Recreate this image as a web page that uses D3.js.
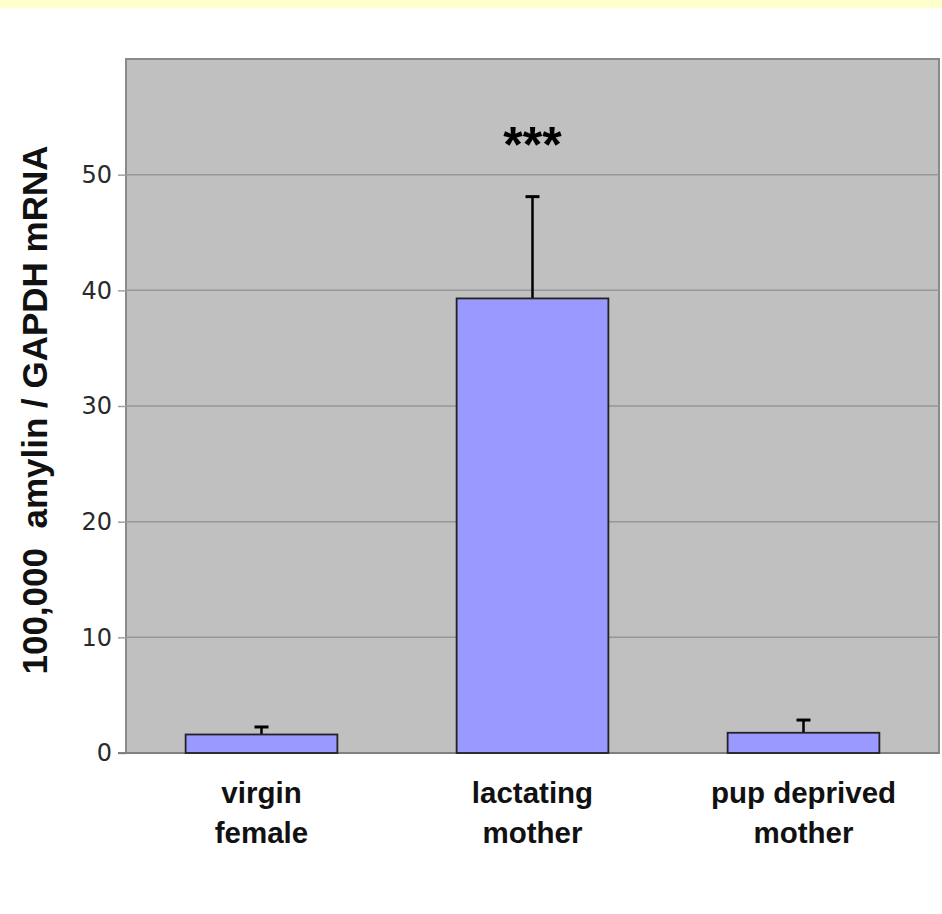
<!DOCTYPE html>
<html>
<head>
<meta charset="utf-8">
<script src="https://cdn.jsdelivr.net/npm/d3@7"></script>
<style>
  body { margin: 0; background: #fff; }
  svg { display: block; }
</style>
</head>
<body>
<div class="vis-barchart"></div>
<script>
// data
const groups = ["virgin female", "lactating mother", "pup deprived mother"];
const labelLines = [["virgin", "female"], ["lactating", "mother"], ["pup deprived", "mother"]];
const means = [1.6, 39.3, 1.75];
const errors = [0.65, 8.8, 1.1];
const stars = ["", "***", ""];
const yTicks = [0, 10, 20, 30, 40, 50];

const width = 942, height = 914;
const margin = { top: 59, right: 3, bottom: 161, left: 126 };

const svg = d3.select('.vis-barchart').append('svg')
    .attr('width', width)
    .attr('height', height);

// pale yellow strip across the top
svg.append('rect')
    .attr('x', 0).attr('y', 0)
    .attr('width', width).attr('height', 8)
    .attr('fill', '#ffffcc');

const innerW = width - margin.left - margin.right;
const innerH = height - margin.top - margin.bottom;

const g = svg.append('g')
    .attr('transform', 'translate(' + margin.left + ',' + margin.top + ')');

const x = d3.scaleBand().domain(groups).range([0, innerW]).paddingInner(0.44).paddingOuter(0.22);
const y = d3.scaleLinear().domain([0, 60]).range([innerH, 0]);

// plot background
g.append('rect')
    .attr('width', innerW).attr('height', innerH)
    .attr('fill', '#c0c0c0')
    .attr('stroke', '#8a8a8a')
    .attr('stroke-width', 2);

// gridlines
g.append('g')
    .selectAll('line')
    .data(yTicks.filter(d => d > 0))
    .join('line')
    .attr('x1', 0).attr('x2', innerW)
    .attr('y1', d => y(d)).attr('y2', d => y(d))
    .attr('stroke', '#969696')
    .attr('stroke-width', 1.5);

// y axis
const yAxis = g.append('g')
    .call(d3.axisLeft(y).tickValues(yTicks).tickSize(8).tickPadding(6));
yAxis.select('.domain').remove();
yAxis.selectAll('.tick line').attr('stroke', '#a0a0a0').attr('stroke-width', 1.5);
yAxis.selectAll('.tick text')
    .attr('font-family', '"DejaVu Sans", sans-serif')
    .attr('font-size', 24)
    .attr('fill', '#2a2a2a');

// baseline
g.append('line')
    .attr('x1', -8).attr('x2', innerW)
    .attr('y1', y(0)).attr('y2', y(0))
    .attr('stroke', '#808080').attr('stroke-width', 2);

// error bars (upper only)
const eb = g.append('g');
eb.selectAll('line.stem')
    .data(groups)
    .join('line')
    .attr('class', 'stem')
    .attr('x1', d => x(d) + x.bandwidth() / 2)
    .attr('x2', d => x(d) + x.bandwidth() / 2)
    .attr('y1', (d, i) => y(means[i]))
    .attr('y2', (d, i) => y(means[i] + errors[i]))
    .attr('stroke', '#000').attr('stroke-width', 2.5);
eb.selectAll('line.cap')
    .data(groups)
    .join('line')
    .attr('class', 'cap')
    .attr('x1', d => x(d) + x.bandwidth() / 2 - 7)
    .attr('x2', d => x(d) + x.bandwidth() / 2 + 7)
    .attr('y1', (d, i) => y(means[i] + errors[i]))
    .attr('y2', (d, i) => y(means[i] + errors[i]))
    .attr('stroke', '#000').attr('stroke-width', 3);

// bars
g.append('g')
    .selectAll('rect')
    .data(groups)
    .join('rect')
    .attr('x', d => x(d))
    .attr('y', (d, i) => y(means[i]))
    .attr('width', x.bandwidth())
    .attr('height', (d, i) => y(0) - y(means[i]))
    .attr('fill', '#9999ff')
    .attr('stroke', '#222')
    .attr('stroke-width', 1.8);

// significance stars
g.append('g')
    .selectAll('text')
    .data(groups)
    .join('text')
    .attr('x', d => x(d) + x.bandwidth() / 2)
    .attr('y', y(51.1))
    .attr('text-anchor', 'middle')
    .attr('font-family', '"Liberation Sans", Arial, sans-serif')
    .attr('font-weight', 'bold')
    .attr('font-size', 50)
    .text((d, i) => stars[i]);

// category labels
const cat = g.append('g')
    .selectAll('text')
    .data(groups)
    .join('text')
    .attr('x', d => x(d) + x.bandwidth() / 2)
    .attr('y', innerH + 50)
    .attr('text-anchor', 'middle')
    .attr('font-family', '"Liberation Sans", Arial, sans-serif')
    .attr('font-weight', 'bold')
    .attr('font-size', 29.5)
    .attr('fill', '#111');
cat.selectAll('tspan')
    .data((d, i) => labelLines[i])
    .join('tspan')
    .attr('x', function () { return d3.select(this.parentNode).attr('x'); })
    .attr('dy', (d, i) => i === 0 ? 0 : 40)
    .text(d => d);

// y axis title
svg.append('text')
    .attr('transform', 'translate(47,410) rotate(-90)')
    .attr('text-anchor', 'middle')
    .attr('font-family', '"Liberation Sans", Arial, sans-serif')
    .attr('font-weight', 'bold')
    .attr('font-size', 35)
    .attr('fill', '#111')
    .style('white-space', 'pre')
    .text('100,000  amylin / GAPDH mRNA');
</script>
</body>
</html>
